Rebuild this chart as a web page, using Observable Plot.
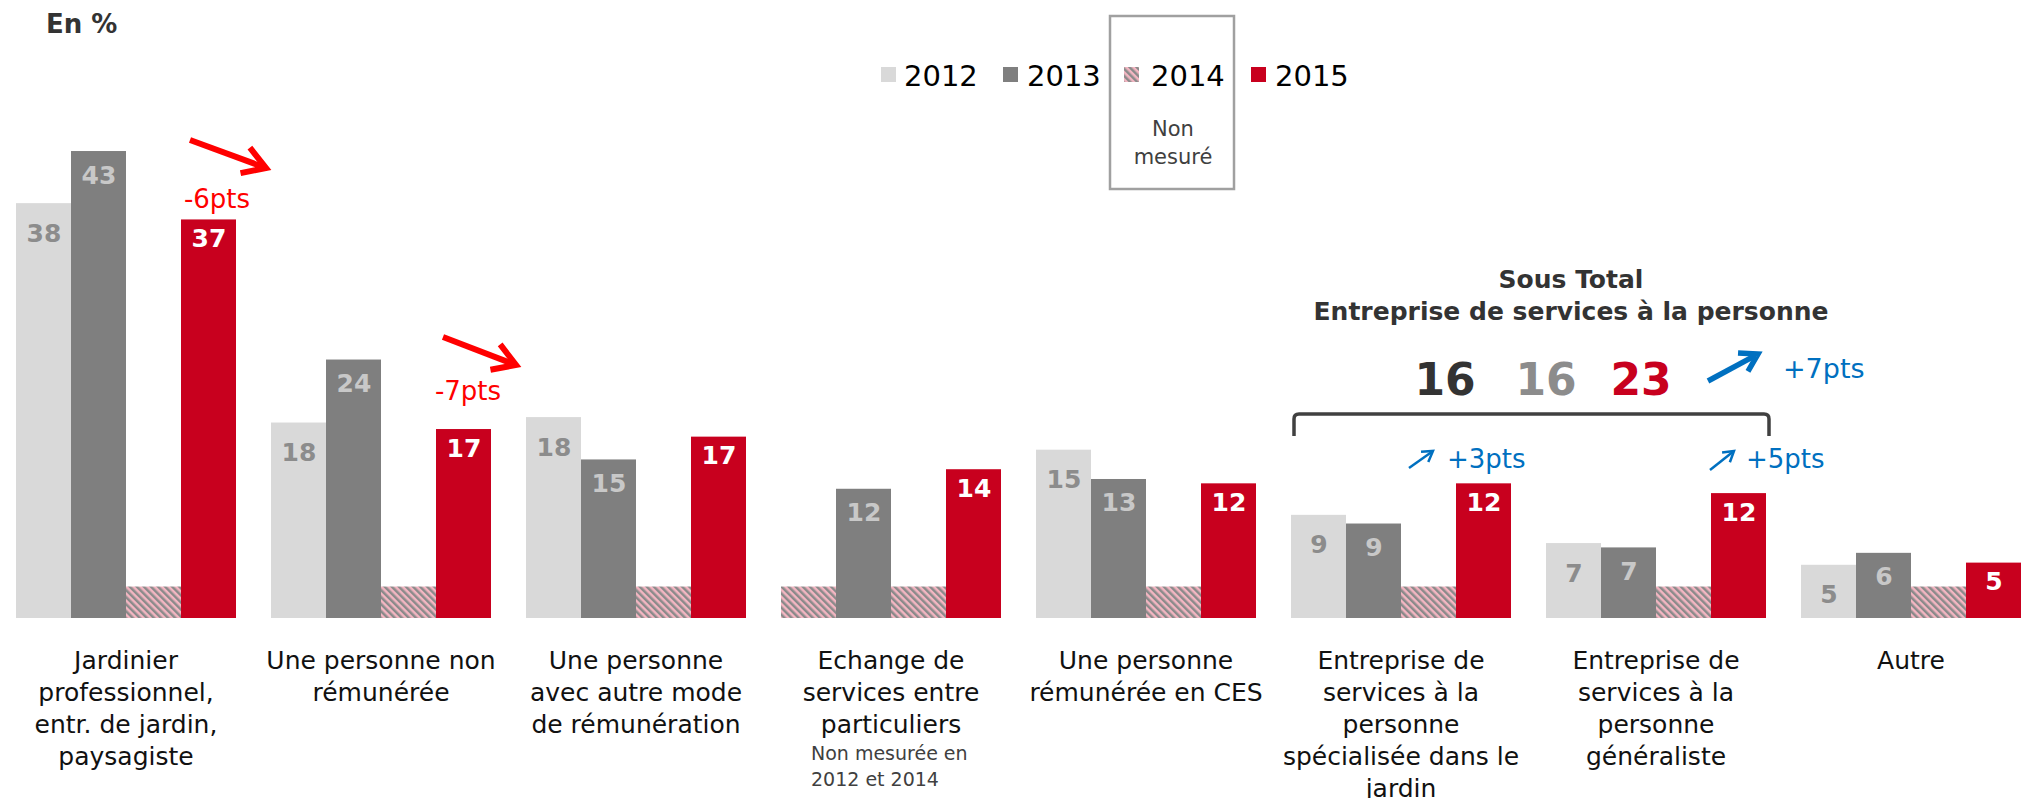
<!DOCTYPE html>
<html><head><meta charset="utf-8">
<script src="https://cdn.jsdelivr.net/npm/d3@7"></script>
<script src="https://cdn.jsdelivr.net/npm/@observablehq/plot@0.6"></script>
<style>
body{margin:0;background:#fff;}
#chart{position:relative;width:2023px;height:798px;}
</style>
</head><body><div id="chart"></div>
<script>
// ---- data ----
const categories = [
  "Jardinier\nprofessionnel,\nentr. de jardin,\npaysagiste",
  "Une personne non\nrémunérée",
  "Une personne\navec autre mode\nde rémunération",
  "Echange de\nservices entre\nparticuliers",
  "Une personne\nrémunérée en CES",
  "Entreprise de\nservices à la\npersonne\nspécialisée dans le\njardin",
  "Entreprise de\nservices à la\npersonne\ngénéraliste",
  "Autre"
];
const years = ["2012", "2013", "2014", "2015"];
const values2012 = [38.2, 18.0, 18.5, null, 15.5, 9.5, 6.9, 4.9];
const values2013 = [43.0, 23.8, 14.6, 11.9, 12.8, 8.7, 6.5, 6.0];
const values2015 = [36.7, 17.4, 16.7, 13.7, 12.4, 12.4, 11.5, 5.1];
// printed labels
const labels2012 = [38, 18, 18, null, 15, 9, 7, 5];
const labels2013 = [43, 24, 15, 12, 13, 9, 7, 6];
const labels2015 = [37, 17, 17, 14, 12, 12, 12, 5];
// stand-in height of the hatched "non mesuré" bars
const notMeasuredValue = 2.9;
const legendYears = ["2012", "2013", "2014", "2015"];
const subTotalValues = [16, 16, 23];
const deltaLabels = ["-6pts", "-7pts", "+7pts", "+3pts", "+5pts"];
const noteLines = ["Non mesurée en", "2012 et 2014"];

// ---- tables ----
const measured = [];
const hatched = [];
categories.forEach((cat, i) => {
  [["2012", values2012, labels2012], ["2013", values2013, labels2013], ["2015", values2015, labels2015]]
    .forEach(([year, vals, labs]) => {
      if (vals[i] == null) hatched.push({cat, year, value: notMeasuredValue});
      else measured.push({cat, year, value: vals[i], label: String(labs[i])});
    });
  hatched.push({cat, year: "2014", value: notMeasuredValue});
});

const colors = {"2012": "#d9d9d9", "2013": "#7f7f7f", "2015": "#c8001e"};
const FONT = "DejaVu Sans";

const valueText = (year, dy, fill) => Plot.text(measured.filter(d => d.year === year), {
  fx: "cat", x: "year", y: "value", text: "label", dy, fill,
  fontWeight: "bold", fontSize: 25
});

const plot = Plot.plot({
  width: 2023, height: 798,
  marginTop: 75, marginBottom: 180, marginLeft: 13, marginRight: 0,
  style: {fontFamily: FONT, background: "#fff", overflow: "visible"},
  fx: {domain: categories, paddingInner: 0.1265, paddingOuter: 0, label: null, axis: null},
  x: {domain: years, padding: 0, axis: null},
  y: {domain: [0, 50], axis: null},
  color: {domain: ["2012", "2013", "2015"], range: [colors["2012"], colors["2013"], colors["2015"]]},
  marks: [
    Plot.barY(measured, {fx: "cat", x: "year", y: "value", fill: "year", inset: 0}),
    Plot.barY(hatched, {fx: "cat", x: "year", y: "value", fill: "url(#hatch14)", inset: 0}),
    valueText("2012", 30, "#8c8c8c"),
    valueText("2013", 24, "#c8c8c8"),
    valueText("2015", 19, "#ffffff"),
    Plot.text(categories, {fx: d => d, text: d => d, frameAnchor: "bottom", lineAnchor: "top",
      dy: 28, fontSize: 25, lineHeight: 1.28, fill: "#111"})
  ]
});

const svg = d3.select(plot);
svg.insert("defs", ":first-child").html(
  `<pattern id="hatch14" patternUnits="userSpaceOnUse" width="5" height="5" patternTransform="rotate(-45)">
     <rect width="5" height="5" fill="#f4b6c2"/><rect width="2.5" height="5" fill="#8a8a8a"/>
   </pattern>`);

const ann = svg.append("g").attr("font-family", FONT);
function txt(x, y, s, opt = {}) {
  const t = ann.append("text").attr("x", x).attr("y", y).text(s)
    .attr("font-size", opt.size || 25).attr("fill", opt.fill || "#000")
    .attr("text-anchor", opt.anchor || "start");
  if (opt.bold) t.attr("font-weight", "bold");
  return t;
}
function arrow(x1, y1, x2, y2, color, w, head, spread = 0.55) {
  const a = Math.atan2(y2 - y1, x2 - x1);
  ann.append("line").attr("x1", x1).attr("y1", y1).attr("x2", x2 - Math.cos(a) * w * 0.5).attr("y2", y2 - Math.sin(a) * w * 0.5)
    .attr("stroke", color).attr("stroke-width", w);
  const p1 = [x2 - head * Math.cos(a - spread), y2 - head * Math.sin(a - spread)];
  const p2 = [x2 - head * Math.cos(a + spread), y2 - head * Math.sin(a + spread)];
  ann.append("path").attr("d", `M${p1}L${x2},${y2}L${p2}`).attr("fill", "none")
    .attr("stroke", color).attr("stroke-width", w).attr("stroke-linejoin", "miter");
}

// "En %"
txt(46, 33, "En %", {size: 26, bold: true, fill: "#333"});

// legend
const legendSquares = [881, 1003, 1124, 1251];
const legendTexts = [904, 1027, 1151, 1275];
legendYears.forEach((y, i) => {
  ann.append("rect").attr("x", legendSquares[i]).attr("y", 67).attr("width", 15).attr("height", 15)
    .attr("fill", y === "2014" ? "url(#hatch14)" : colors[y]);
  txt(legendTexts[i], 86, y, {size: 29, fill: "#000"});
});
ann.append("rect").attr("x", 1110).attr("y", 16).attr("width", 124).attr("height", 173)
  .attr("fill", "none").attr("stroke", "#a0a0a0").attr("stroke-width", 2.5);
txt(1173, 136, "Non", {size: 21, fill: "#404040", anchor: "middle"});
txt(1173, 164, "mesuré", {size: 21, fill: "#404040", anchor: "middle"});

// red decreases
arrow(190, 140, 266, 168, "#ff0000", 6, 26);
txt(217, 208, deltaLabels[0], {size: 26, fill: "#ff0000", anchor: "middle"});
arrow(443, 337, 516, 365, "#ff0000", 6, 26);
txt(468, 400, deltaLabels[1], {size: 26, fill: "#ff0000", anchor: "middle"});

// sous total
txt(1571, 288, "Sous Total", {size: 25, bold: true, fill: "#333", anchor: "middle"});
txt(1571, 320, "Entreprise de services à la personne", {size: 25, bold: true, fill: "#333", anchor: "middle"});
const stX = [1445, 1546, 1641], stCol = ["#333333", "#8c8c8c", "#c8001e"];
subTotalValues.forEach((v, i) => txt(stX[i], 395, String(v), {size: 44, bold: true, fill: stCol[i], anchor: "middle"}));
arrow(1708, 381, 1758, 354, "#0070c0", 5.5, 20);
txt(1783, 378, deltaLabels[2], {size: 27, fill: "#0070c0"});
ann.append("path").attr("d", "M1294,436V419Q1294,414 1299,414H1764Q1769,414 1769,419V436")
  .attr("fill", "none").attr("stroke", "#404040").attr("stroke-width", 3.5);

arrow(1409, 468, 1433, 451, "#0070c0", 2.5, 12);
txt(1447, 468, deltaLabels[3], {size: 26, fill: "#0070c0"});
arrow(1710, 470, 1734, 451, "#0070c0", 2.5, 12);
txt(1746, 468, deltaLabels[4], {size: 26, fill: "#0070c0"});

// note under "Echange"
txt(811, 760, noteLines[0], {size: 19, fill: "#404040"});
txt(811, 786, noteLines[1], {size: 19, fill: "#404040"});

document.getElementById("chart").appendChild(plot);
</script>
</body></html>
